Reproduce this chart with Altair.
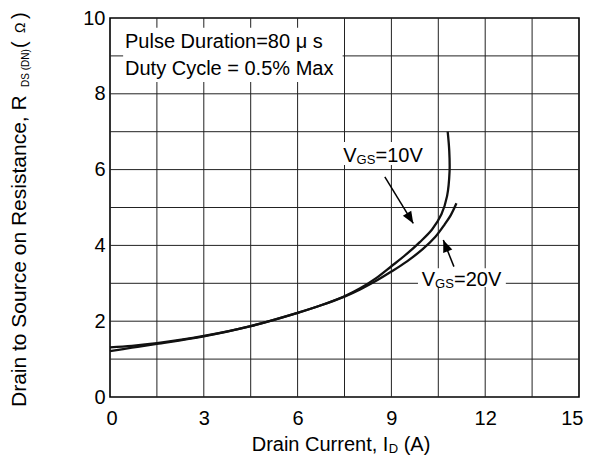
import math
import altair as alt
import pandas as pd

# ---------------- data ----------------
x_10v = [0.0, 0.7, 1.5, 3.0, 4.5, 6.0, 6.75, 7.5, 8.0, 8.5, 9.0, 9.5, 9.9, 10.3, 10.6, 10.78, 10.86, 10.85, 10.8]
y_10v = [1.31, 1.35, 1.42, 1.61, 1.87, 2.22, 2.42, 2.66, 2.87, 3.13, 3.45, 3.78, 4.08, 4.42, 4.82, 5.3, 5.95, 6.5, 7.0]
x_20v = [0.0, 0.7, 1.5, 3.0, 4.5, 6.0, 6.75, 7.5, 8.0, 8.5, 9.0, 9.5, 10.0, 10.4, 10.7, 10.9, 11.08]
y_20v = [1.21, 1.3, 1.4, 1.6, 1.87, 2.22, 2.42, 2.65, 2.84, 3.06, 3.31, 3.58, 3.9, 4.22, 4.55, 4.8, 5.11]

x_ticks = [0, 3, 6, 9, 12, 15]
y_ticks = [0, 2, 4, 6, 8, 10]
x_grid = [1.5, 3, 4.5, 6, 7.5, 9, 10.5, 12, 13.5]
y_grid = [1, 2, 3, 4, 5, 6, 7, 8, 9]

# arrows: start -> tip (data units)
arrow_x0 = [8.79, 11.0]
arrow_y0 = [5.81, 3.44]
arrow_x1 = [9.70, 10.66]
arrow_y1 = [4.58, 4.14]

# white boxes behind annotations (data units)
box_x = [0.42, 7.36, 9.85]
box_x2 = [7.44, 10.23, 12.66]
box_y = [8.31, 6.12, 2.90]
box_y2 = [9.74, 6.73, 3.40]

W, H = 469, 379
FONT = "Liberation Sans"
INK = "#000000"

xs = alt.Scale(domain=[0, 15], nice=False, zero=False)
ys = alt.Scale(domain=[0, 10], nice=False, zero=False)
ax_x = alt.Axis(values=x_ticks, grid=False, ticks=False, domain=False, title=None,
                labelFont=FONT, labelFontSize=20, labelColor=INK, labelPadding=11,
                labelFlush=True, labelFlushOffset=4)
ax_y = alt.Axis(values=y_ticks, grid=False, ticks=False, domain=False, title=None,
                labelFont=FONT, labelFontSize=20, labelColor=INK, labelPadding=5,
                labelBaseline="middle")

X = lambda f: alt.X(f, type="quantitative", scale=xs, axis=ax_x)
Y = lambda f: alt.Y(f, type="quantitative", scale=ys, axis=ax_y)

# grid
vgrid = alt.Chart(pd.DataFrame({"x": x_grid})).mark_rule(color="#222", strokeWidth=1).encode(x=X("x"))
hgrid = alt.Chart(pd.DataFrame({"y": y_grid})).mark_rule(color="#222", strokeWidth=1).encode(y=Y("y"))

boxes = alt.Chart(pd.DataFrame({"x": box_x, "x2": box_x2, "y": box_y, "y2": box_y2})).mark_rect(
    fill="white").encode(x=X("x"), x2="x2", y=Y("y"), y2="y2")

# curves
rows = []
for name, xv, yv in [("10V", x_10v, y_10v), ("20V", x_20v, y_20v)]:
    for i, (a, b) in enumerate(zip(xv, yv)):
        rows.append({"s": name, "i": i, "x": a, "y": b})
curve_df = pd.DataFrame(rows)
curves = alt.Chart(curve_df).mark_line(color="#111", strokeWidth=2.3, interpolate="catmull-rom").encode(
    x=X("x"), y=Y("y"), detail="s:N", order="i:Q")

# arrows
kx, ky = W / 15, H / 10
angles = []
for a0, b0, a1, b1 in zip(arrow_x0, arrow_y0, arrow_x1, arrow_y1):
    dxs = (a1 - a0) * kx
    dys = -(b1 - b0) * ky
    angles.append(math.degrees(math.atan2(dxs, -dys)) % 360)
arrow_df = pd.DataFrame({"x": arrow_x0, "y": arrow_y0, "x2": arrow_x1, "y2": arrow_y1, "a": angles})
arrow_lines = alt.Chart(arrow_df).mark_rule(color=INK, strokeWidth=1.5).encode(
    x=X("x"), y=Y("y"), x2="x2", y2="y2")
arrow_heads = alt.Chart(arrow_df).mark_point(
    shape="M0,0L-0.45,1.1L0.45,1.1Z", filled=True, color=INK, opacity=1, size=475, strokeWidth=0).encode(
    x=X("x2"), y=Y("y2"), angle=alt.Angle("a:Q", scale=None))


def txt(x, y, s, size, dx=0, dy=0, angle=0, pixel=False):
    df = pd.DataFrame({"x": [x], "y": [y], "t": [s]})
    m = alt.Chart(df).mark_text(align="left", baseline="alphabetic", font=FONT, fontSize=size,
                                dx=dx, dy=dy, angle=angle, color=INK)
    if pixel:
        return m.encode(x=alt.value(x), y=alt.value(y), text="t:N")
    return m.encode(x=X("x"), y=Y("y"), text="t:N")


texts = [
    txt(0.48, 9.20, "Pulse Duration=80 μ s", 20),
    txt(0.48, 8.50, "Duty Cycle = 0.5% Max", 20),
    # VGS=10V
    txt(7.46, 6.21, "V", 20),
    txt(7.46, 6.21, "GS", 13, dx=13.3, dy=2),
    txt(7.46, 6.21, "=10V", 20, dx=32.3),
    # VGS=20V
    txt(9.97, 2.94, "V", 20),
    txt(9.97, 2.94, "GS", 13, dx=13.3, dy=2),
    txt(9.97, 2.94, "=20V", 20, dx=32.3),
    # x title
    txt(141.7, 432.5, "Drain Current, I", 20, pixel=True),
    txt(141.7, 432.5, "D", 13, dx=137, dy=2.5, pixel=True),
    txt(141.7, 432.5, "(A)", 20, dx=152, pixel=True),
    # y title (rotated)
    txt(-84, 389, "Drain to Source on Resistance, R", 21, angle=270, pixel=True),
    txt(-84, 389, "DS (DN)", 10, dx=320, dy=3, angle=270, pixel=True),
    txt(-84, 389, "(", 20, dx=359, angle=270, pixel=True),
    txt(-84, 389, "Ω", 14, dx=374, dy=-1, angle=270, pixel=True),
    txt(-84, 389, ")", 20, dx=388, angle=270, pixel=True),
]

chart = alt.layer(vgrid, hgrid, boxes, curves, arrow_lines, arrow_heads, *texts).properties(
    width=W, height=H,
    autosize=alt.AutoSizeParams(type="none"),
    padding={"left": 102, "top": 10, "right": 11, "bottom": 59},
    background="white",
).configure_view(stroke=INK, strokeWidth=1.6)

chart.save("out.html", embed_options={"renderer": "svg", "actions": False})
